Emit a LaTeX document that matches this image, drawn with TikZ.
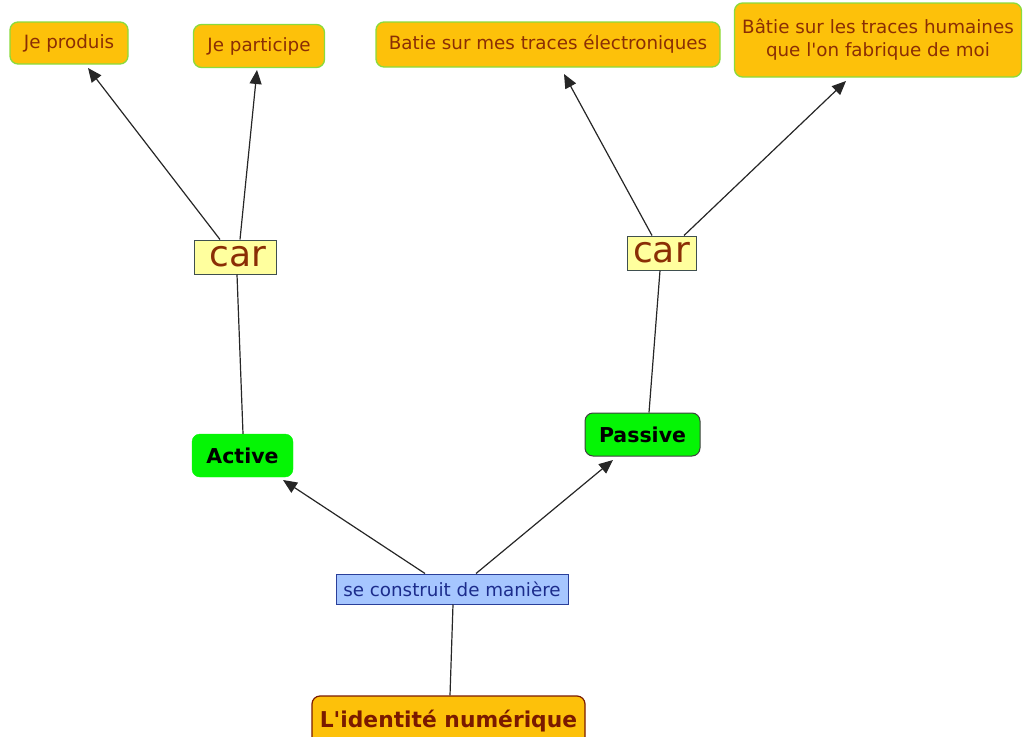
\documentclass[tikz,border=0pt]{standalone}
\usepackage{fontspec}
\setmainfont{DejaVu Sans}[Ligatures=TeXOff]
\usetikzlibrary{arrows.meta}
\definecolor{orfill}{HTML}{FDC10A}
\definecolor{grborder}{HTML}{8ADB3C}
\definecolor{brtext}{HTML}{8A2E05}
\definecolor{carfill}{HTML}{FFFF9E}
\definecolor{carborder}{HTML}{3F4F4F}
\definecolor{actfill}{HTML}{05F505}
\definecolor{bluefill}{HTML}{A6C6FF}
\definecolor{blueborder}{HTML}{2A3F9A}
\definecolor{bluetext}{HTML}{1C2C8C}
\definecolor{idtext}{HTML}{7A1A00}
\begin{document}
\begin{tikzpicture}[x=1pt,y=-1pt,
  leaf/.style={draw=grborder,line width=1.3pt,fill=orfill,rounded corners=8pt,text=brtext,font=\fontsize{18.3}{23}\selectfont,align=center,inner sep=0pt},
  carbox/.style={draw=carborder,line width=1pt,fill=carfill,text=brtext,font=\fontsize{36}{38}\selectfont,inner sep=0pt},
  kind/.style={fill=actfill,rounded corners=8pt,text=black,font=\fontsize{20.5}{22}\selectfont\bfseries,inner sep=0pt},
  linkbox/.style={draw=blueborder,line width=1pt,fill=bluefill,text=bluetext,font=\fontsize{18.3}{20}\selectfont,inner sep=0pt},
  rootbox/.style={draw=idtext,line width=1.2pt,fill=orfill,rounded corners=8pt,text=idtext,font=\fontsize{21.8}{24}\selectfont\bfseries,inner sep=0pt},
  arr/.style={draw=black!85,line width=1.2pt,-{Triangle[length=14pt,width=12pt]}},
  ln/.style={draw=black!85,line width=1.2pt}]
\useasboundingbox (0,0) rectangle (1025,736);
\node[leaf,minimum width=118pt,minimum height=42pt] (p) at (69,43) {Je produis};
\node[leaf,minimum width=131pt,minimum height=43pt] (q) at (259,46) {Je participe};
\node[leaf,minimum width=344pt,minimum height=45pt] (e) at (548,44.5) {Batie sur mes traces électroniques};
\node[leaf,minimum width=287pt,minimum height=74pt] (h) at (878,40) {Bâtie sur les traces humaines\\que l'on fabrique de moi};
\node[carbox,minimum width=82pt,minimum height=34pt] (c1) at (235,257) {\,car};
\node[carbox,minimum width=69pt,minimum height=34pt] (c2) at (661.5,253) {car};
\node[kind,draw=actfill,minimum width=101pt,minimum height=43pt] (a) at (242.5,455.5) {Active};
\node[kind,draw=black!75,line width=1pt,minimum width=115pt,minimum height=43pt] (s) at (642.5,434.5) {Passive};
\node[linkbox,minimum width=232pt,minimum height=30pt] (m) at (452,589) {se construit de manière};
\node[rootbox,minimum width=273pt,minimum height=50pt] (r) at (448.5,721) {L'identité numérique};
\draw[ln] (r.north -| 450,0) -- (m.south -| 453,0);
\draw[arr] (m.north -| 425,0) -- (283,480);
\draw[arr] (m.north -| 476,0) -- (613,460);
\draw[ln] (a.north -| 243,0) -- (c1.south -| 237,0);
\draw[ln] (s.north -| 649,0) -- (c2.south -| 660,0);
\draw[arr] (c1.north -| 220,0) -- (88,68);
\draw[arr] (c1.north -| 240,0) -- (257,70);
\draw[arr] (c2.north -| 652,0) -- (564,74);
\draw[arr] (c2.north -| 684,0) -- (846,81);
\end{tikzpicture}
\end{document}
